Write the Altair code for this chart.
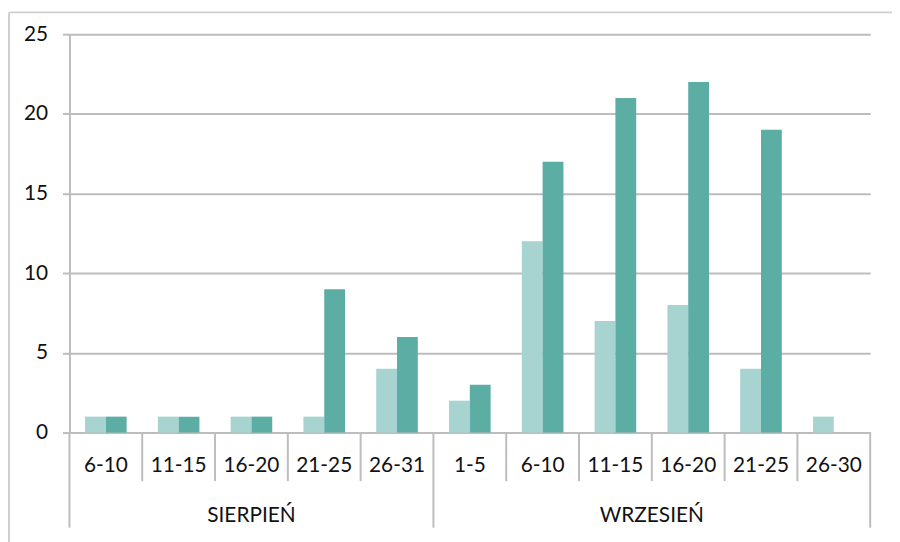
import altair as alt
import pandas as pd

months = ["SIERPIEŃ"] * 5 + ["WRZESIEŃ"] * 6
periods = ["6-10", "11-15", "16-20", "21-25", "26-31",
           "1-5", "6-10", "11-15", "16-20", "21-25", "26-30"]
series_light = [1, 1, 1, 1, 4, 2, 12, 7, 8, 4, 1]
series_dark = [1, 1, 1, 9, 6, 3, 17, 21, 22, 19, 0]

LIGHT = "#A7D4D0"
DARK = "#5CADA3"
GRID = "#BDBDBD"
FONT = "Lato"
TXT = "#111111"
FS = 21

W, H = 808, 402

keys = [f"{m}|{p}" for m, p in zip(months, periods)]

rows = []
for k, a, b in zip(keys, series_light, series_dark):
    rows.append({"key": k, "series": "a", "value": a})
    rows.append({"key": k, "series": "b", "value": b})
df = pd.DataFrame(rows)

xscale = alt.Scale(domain=keys, paddingInner=0, paddingOuter=0)
xaxis = alt.Axis(labelExpr="split(datum.label, '|')[1]", ticks=False, tickSize=0,
                 labelAngle=0, labelFont=FONT, labelFontSize=FS, labelColor=TXT,
                 labelPadding=33, labelBaseline="middle", labelOverlap=False,
                 domainColor=GRID, domainWidth=2, title=None)

bars = alt.Chart(df).mark_bar().encode(
    x=alt.X("key:N", scale=xscale, title=None, axis=xaxis),
    xOffset=alt.XOffset("series:N", scale=alt.Scale(domain=["a", "b"], paddingOuter=0.75, paddingInner=0)),
    y=alt.Y("value:Q", scale=alt.Scale(domain=[0, 25]), title=None,
            axis=alt.Axis(values=[0, 5, 10, 15, 20, 25], grid=True, gridColor=GRID, gridWidth=2,
                          tickColor=GRID, tickSize=7, tickWidth=2, domainColor=GRID, domainWidth=2,
                          labelFont=FONT, labelFontSize=FS, labelColor=TXT, labelPadding=15)),
    color=alt.Color("series:N", scale=alt.Scale(domain=["a", "b"], range=[LIGHT, DARK]), legend=None),
)

# category separators
month_start = [i == 0 or months[i] != months[i - 1] for i in range(len(keys))]
short_df = pd.DataFrame({"key": [k for k, s in zip(keys, month_start) if not s]})
long_df = pd.DataFrame({"key": [k for k, s in zip(keys, month_start) if s]})
end_df = pd.DataFrame({"key": [keys[-1]]})

short_rules = alt.Chart(short_df).mark_rule(color=GRID, strokeWidth=2).encode(
    x=alt.X("key:N", bandPosition=0, axis=xaxis, scale=xscale, title=None),
    y=alt.value(H), y2=alt.value(H + 49))
long_rules = alt.Chart(long_df).mark_rule(color=GRID, strokeWidth=2).encode(
    x=alt.X("key:N", bandPosition=0, axis=xaxis, scale=xscale, title=None),
    y=alt.value(H), y2=alt.value(H + 96))
end_rule = alt.Chart(end_df).mark_rule(color=GRID, strokeWidth=2).encode(
    x=alt.X("key:N", bandPosition=1, axis=xaxis, scale=xscale, title=None),
    y=alt.value(H), y2=alt.value(H + 96))

# month labels
month_layers = []
unique_months = list(dict.fromkeys(months))
for m in unique_months:
    mk = [k for k, mm in zip(keys, months) if mm == m]
    n = len(mk)
    if n % 2 == 1:
        k, bp = mk[n // 2], 0.5
    else:
        k, bp = mk[n // 2 - 1], 1
    month_layers.append(
        alt.Chart(pd.DataFrame({"key": [k], "label": [m]})).mark_text(
            font=FONT, fontSize=FS, color=TXT, baseline="middle", align="center"
        ).encode(x=alt.X("key:N", bandPosition=bp, axis=xaxis, scale=xscale, title=None),
                 y=alt.value(H + 84), text="label:N")
    )

frame = alt.Chart(pd.DataFrame({"a": [0]})).mark_rect(
    fillOpacity=0, stroke="#CFCFCF", strokeWidth=2, cornerRadius=2
).encode(x=alt.value(-61), x2=alt.value(W + 60), y=alt.value(-22), y2=alt.value(H + 200))

chart = alt.layer(frame, bars, short_rules, long_rules, end_rule, *month_layers).properties(
    width=W, height=H,
    autosize=alt.AutoSizeParams(type="none"),
    padding={"left": 62, "top": 24, "right": 22, "bottom": 108},
    background="white",
).configure_view(strokeWidth=0)

chart.save("out.html", embed_options={"renderer": "svg", "actions": False})
